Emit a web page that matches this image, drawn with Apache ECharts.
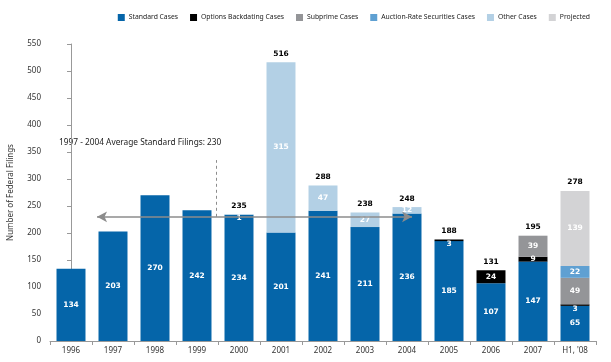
<!DOCTYPE html>
<html><head><meta charset="utf-8">
<script src="https://cdn.jsdelivr.net/npm/echarts@6/dist/echarts.min.js"></script>
<style>html,body{margin:0;padding:0;background:#fff}#c{width:611px;height:362px}</style>
</head><body><div id="c"></div>
<script>
var categories = ['1996','1997','1998','1999','2000','2001','2002','2003','2004','2005','2006','2007',"H1, '08"];
var standardCases = [134,203,270,242,234,201,241,211,236,185,107,147,65];
var optionsBackdating = [0,0,0,0,0,0,0,0,0,3,24,9,3];
var subprimeCases = [0,0,0,0,0,0,0,0,0,0,0,39,49];
var auctionRate = [0,0,0,0,0,0,0,0,0,0,0,0,22];
var otherCases = [0,0,0,0,1,315,47,27,12,0,0,0,0];
var projected = [0,0,0,0,0,0,0,0,0,0,0,0,139];
var totals = [null,null,null,null,235,516,288,238,248,188,131,195,278];
var yTicks = [0,50,100,150,200,250,300,350,400,450,500,550];
var avgValue = 230;
var avgRange = [0.62, 8.12];   // category-index span of the average arrow
var avgDivider = 3.45;          // category-index position of dashed divider
var avgText = '1997 - 2004 Average Standard Filings: 230';

var FONT = 'Noto Sans';
var chart = echarts.init(document.getElementById('c'));

function labelOffsets(vals){
  return vals.map(function(v){
    if (v === 0) return {value: 0, label: {show: false}};
    if (v < 5) return {value: v, label: {offset: [0, 4]}};
    return v;
  });
}
function mk(name, data, color){
  return {
    name: name, type: 'bar', stack: 'all', barCategoryGap: '31%',
    itemStyle: {color: color},
    label: {show: true, position: 'inside', color: '#fff', fontWeight: 'bold',
            fontFamily: 'DejaVu Sans', fontSize: 7.5},
    data: labelOffsets(data)
  };
}
var series = [
  mk('Standard Cases', standardCases, '#0565a9'),
  mk('Options Backdating Cases', optionsBackdating, '#000000'),
  mk('Subprime Cases', subprimeCases, '#949598'),
  mk('Auction-Rate Securities Cases', auctionRate, '#5fa0d2'),
  mk('Other Cases', otherCases, '#b3d0e5'),
  mk('Projected', projected, '#d3d3d5'),
  {
    name: 'total', type: 'line', data: totals, symbol: 'circle', symbolSize: 1,
    showSymbol: true, silent: true,
    itemStyle: {opacity: 0},
    lineStyle: {opacity: 0},
    label: {show: true, position: 'top', distance: 4, color: '#000', fontWeight: 'bold',
            fontFamily: 'DejaVu Sans', fontSize: 7.5, opacity: 1}
  },
  {
    name: 'avg', type: 'line', xAxisIndex: 1, data: [], symbol: 'none', silent: true,
    markLine: {
      silent: true, symbol: ['arrow', 'arrow'], symbolSize: [8, 10],
      label: {show: false},
      lineStyle: {color: '#8c8c8c', type: 'solid', width: 1.5},
      data: [[{coord: [avgRange[0], avgValue]}, {coord: [avgRange[1], avgValue]}]]
    }
  },
  {
    name: 'divider', type: 'line', xAxisIndex: 1, data: [], symbol: 'none', silent: true,
    markLine: {
      silent: true, symbol: ['none', 'none'],
      label: {show: false},
      lineStyle: {color: '#8c8c8c', type: [3, 3], width: 1},
      data: [[{coord: [avgDivider, avgValue]}, {coord: [avgDivider, 335]}]]
    }
  }
];

chart.setOption({
  animation: false,
  backgroundColor: '#fff',
  textStyle: {fontFamily: FONT},
  legend: {
    data: ['Standard Cases','Options Backdating Cases','Subprime Cases','Auction-Rate Securities Cases','Other Cases','Projected'],
    right: 16, top: 9, itemWidth: 7, itemHeight: 7, itemGap: 12, icon: 'rect',
    textStyle: {fontFamily: FONT, fontSize: 6.8, color: '#222', padding: [0,0,0,-1]}
  },
  grid: {left: 50, right: 15, top: 44, bottom: 21, containLabel: false, outerBoundsMode: 'none'},
  xAxis: [{
    type: 'category', data: categories,
    axisLine: {lineStyle: {color: '#999'}},
    axisTick: {show: true, length: 4, lineStyle: {color: '#999'}},
    axisLabel: {color: '#333', fontSize: 8, fontFamily: FONT, margin: 6}
  }, {
    type: 'value', min: -0.5, max: 12.5, show: false
  }],
  yAxis: {
    type: 'value', min: yTicks[0], max: yTicks[yTicks.length-1], interval: 50,
    name: 'Number of Federal Filings', nameLocation: 'middle', nameGap: 35,
    nameTextStyle: {color: '#333', fontSize: 8, fontFamily: FONT},
    axisLine: {show: true, lineStyle: {color: '#999'}},
    axisTick: {show: true, length: 4, lineStyle: {color: '#999'}},
    axisLabel: {color: '#333', fontSize: 8, fontFamily: FONT, margin: 9},
    splitLine: {show: false}
  },
  graphic: [{
    type: 'text', left: 59, top: 139,
    style: {text: avgText, fill: '#222', font: '8.3px "Noto Sans"'}
  }],
  series: series
});
</script></body></html>
